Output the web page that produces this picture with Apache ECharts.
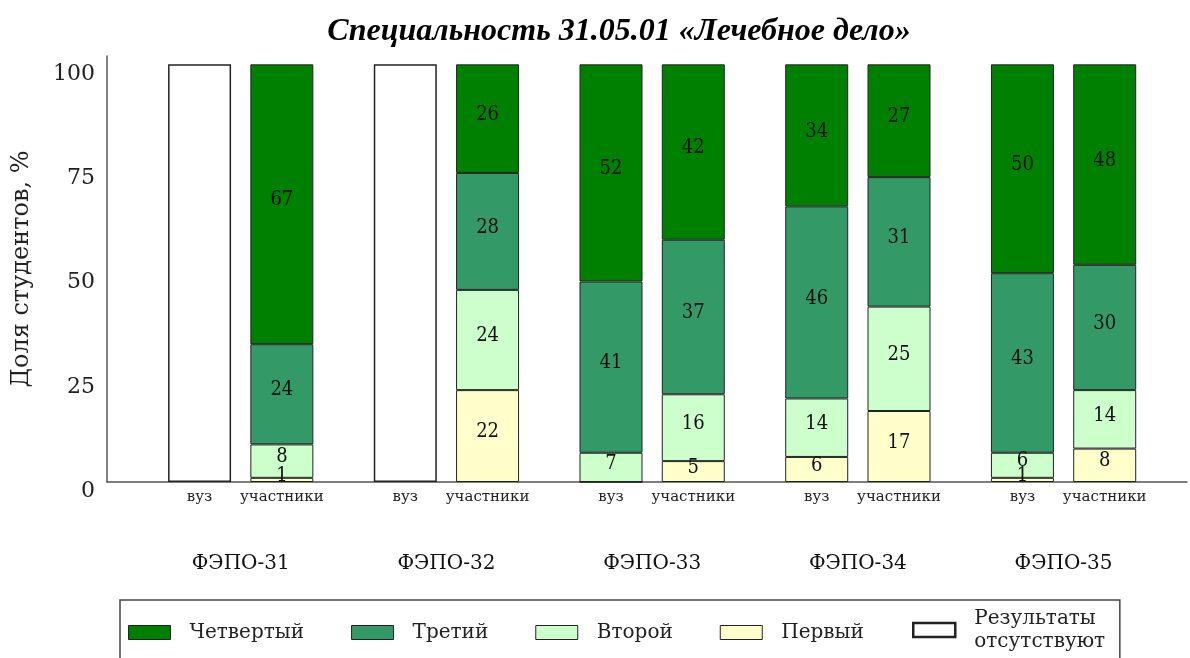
<!DOCTYPE html>
<html>
<head>
<meta charset="utf-8">
<script src="https://cdn.jsdelivr.net/npm/echarts@6/dist/echarts.min.js"></script>
<style>
  html, body { margin: 0; padding: 0; background: #fff; }
  #chart { width: 1190px; height: 658px; }
</style>
</head>
<body>
<div id="chart"></div>
<script>
// Data
const groups = ["ФЭПО-31", "ФЭПО-32", "ФЭПО-33", "ФЭПО-34", "ФЭПО-35"];
const barNames = ["вуз", "участники"];

const first = [null, 1, null, 22, 0, 5, 6, 17, 1, 8];
const second = [null, 8, null, 24, 7, 16, 14, 25, 6, 14];
const third = [null, 24, null, 28, 41, 37, 46, 31, 43, 30];
const fourth = [null, 67, null, 26, 52, 42, 34, 27, 50, 48];
const missing = [100, null, 100, null, null, null, null, null, null, null];

const yTicks = [0, 25, 50, 75, 100];

// Slot layout of the category axis: fine slots, two bars per group,
// bars 8 slots apart inside a group, 20 slots between groups
const slotCount = 106;
const barSlot = [9, 17, 29, 37, 49, 57, 69, 77, 89, 97];
const groupSlot = [13, 33, 53, 73, 93];

const slots = Array.from({ length: slotCount }, (_, i) => String(i));
const barLabels = slots.map(() => "");
barSlot.forEach((s, i) => (barLabels[s] = barNames[i % 2]));
const groupLabels = slots.map(() => "");
groupSlot.forEach((s, i) => (groupLabels[s] = groups[i]));

function spread(values) {
  const out = slots.map(() => null);
  barSlot.forEach((s, i) => (out[s] = values[i]));
  return out;
}

const serif = "DejaVu Serif";
const serifCond = "DejaVu Serif Condensed";

const chart = echarts.init(document.getElementById("chart"));

function makeSeries(name, values, color, borderWidth) {
  return {
    name: name,
    type: "bar",
    stack: "total",
    xAxisIndex: 0,
    barWidth: 63,
    data: spread(values),
    itemStyle: { color: color, borderColor: "#222", borderWidth: borderWidth || 1 },
    label: {
      show: values !== missing,
      position: "inside",
      offset: [0, -4],
      color: "#111",
      fontFamily: serifCond,
      fontSize: 20,
      formatter: (p) => (p.value ? String(p.value) : ""),
    },
    emphasis: { disabled: true },
  };
}

const legendText = { fontFamily: serif, fontSize: 20, color: "#222", lineHeight: 23, padding: [0, 0, 0, 14] };

const option = {
  animation: false,
  title: {
    text: "Специальность 31.05.01 «Лечебное дело»",
    left: 614,
    textAlign: "center",
    top: 11,
    textStyle: {
      fontFamily: "Liberation Serif",
      fontStyle: "italic",
      fontWeight: "bold",
      fontSize: 32,
      color: "#000",
    },
  },
  grid: { left: 107, right: 0, top: 56, bottom: 176 },
  legend: [
    {
      left: 120,
      top: 600,
      itemWidth: 42,
      itemHeight: 14,
      itemGap: 47,
      padding: [21, 256, 40, 8],
      borderColor: "#444",
      borderWidth: 1.5,
      icon: "rect",
      itemStyle: { borderColor: "#222", borderWidth: 1 },
      textStyle: legendText,
      data: ["Четвертый", "Третий", "Второй", "Первый"],
    },
    {
      left: 912,
      top: 607,
      itemWidth: 42,
      itemHeight: 14,
      padding: 0,
      icon: "rect",
      itemStyle: { borderColor: "#222", borderWidth: 2.5 },
      textStyle: legendText,
      data: ["Результаты\nотсутствуют"],
    },
  ],
  xAxis: [
    {
      type: "category",
      data: slots,
      boundaryGap: false,
      axisTick: { show: false },
      axisLine: { show: true, lineStyle: { color: "#555", width: 1.5 } },
      axisLabel: {
        interval: 0,
        margin: 8,
        fontFamily: serif,
        fontSize: 15,
        color: "#222",
        formatter: (v, i) => barLabels[i],
      },
    },
    {
      type: "category",
      position: "bottom",
      data: slots,
      boundaryGap: false,
      axisTick: { show: false },
      axisLine: { show: false },
      axisLabel: {
        interval: 0,
        margin: 72,
        fontFamily: serif,
        fontSize: 20,
        color: "#111",
        formatter: (v, i) => groupLabels[i],
      },
    },
  ],
  yAxis: {
    type: "value",
    min: 0,
    max: 102,
    interval: 25,
    name: "Доля студентов, %",
    nameLocation: "middle",
    nameGap: 73,
    nameTextStyle: { fontFamily: serif, fontSize: 24, color: "#222" },
    splitLine: { show: false },
    axisTick: { show: false },
    axisLine: { show: true, lineStyle: { color: "#555", width: 1.5 } },
    axisLabel: {
      margin: 12,
      verticalAlign: "top",
      lineHeight: 19,
      fontFamily: serif,
      fontSize: 22,
      color: "#222",
      formatter: (v) => (yTicks.includes(v) ? String(v) : ""),
    },
  },
  series: [
    makeSeries("Первый", first, "#ffffcc"),
    makeSeries("Второй", second, "#ccffcc"),
    makeSeries("Третий", third, "#339966"),
    makeSeries("Четвертый", fourth, "#008000"),
    makeSeries("Результаты\nотсутствуют", missing, "#ffffff", 1.5),
  ],
};

chart.setOption(option);
</script>
</body>
</html>
